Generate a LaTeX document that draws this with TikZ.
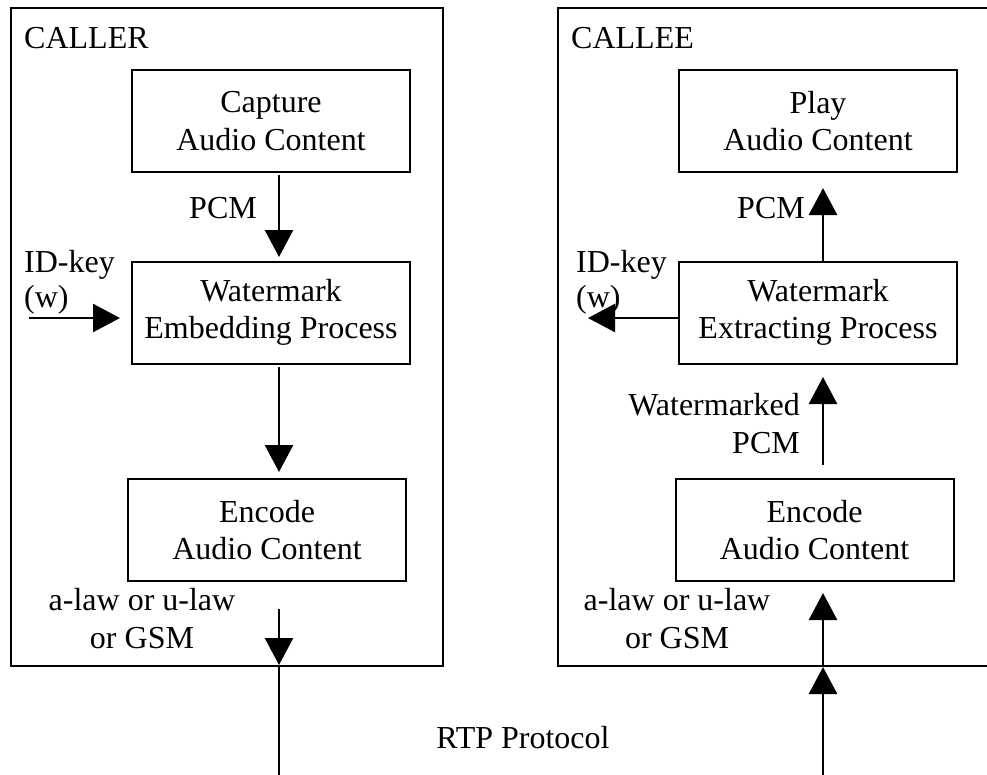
\documentclass[tikz,border=0pt]{standalone}
\usepackage{fontspec}
\setmainfont{Liberation Serif}
\usetikzlibrary{arrows.meta}
\begin{document}
\begin{tikzpicture}[x=1pt,y=-1pt,
  every node/.style={font=\fontsize{32}{37.5}\selectfont, inner sep=0pt},
  frame/.style={draw, line width=2pt},
  block/.style={draw, line width=2pt, align=center, minimum width=278pt, minimum height=102pt},
  flow/.style={line width=2.6pt, -{Triangle[length=27pt,width=28pt]}},
  wire/.style={line width=1.2pt},
  lbl/.style={anchor=base west},
  lblr/.style={anchor=base east}]
\clip (0,0) rectangle (987,774);
\fill[white] (0,0) rectangle (987,774);

% sender and receiver frames
\draw[frame] (11,8) rectangle (443,666);
\draw[frame] (558,8) rectangle (1000,666);
\node[lbl] (caller) at (24,48) {CALLER};
\node[lbl] (callee) at (571,48) {CALLEE};

% caller chain
\node[block] (cap) at (271,121) {Capture\\Audio Content};
\node[block] (emb) at (271,312.5) {Watermark\\Embedding Process};
\node[block] (encl) at (267,530) {Encode\\Audio Content};

% callee chain
\node[block] (play) at (818,121) {Play\\Audio Content};
\node[block] (ext) at (818,312.5) {Watermark\\Extracting Process};
\node[block] (encr) at (814.5,530) {Encode\\Audio Content};

% caller connectors
\coordinate (c1) at (279,175);
\coordinate (c2) at (279,257);
\draw[flow] (c1) -- (c2);
\coordinate (k1) at (29,318);
\coordinate (k2) at (120,318);
\draw[flow] (k1) -- (k2);
\coordinate (c3) at (279,367);
\coordinate (c4) at (279,472);
\draw[flow] (c3) -- (c4);
\coordinate (c5) at (279,609);
\coordinate (c6) at (279,665);
\coordinate (c7) at (279,780);
\draw[flow] (c5) -- (c6);
\draw[wire] (c6) -- (c7);

% callee connectors
\coordinate (r1) at (823,262);
\coordinate (r2) at (823,188);
\draw[flow] (r1) -- (r2);
\coordinate (k3) at (679,318);
\coordinate (k4) at (588,318);
\draw[flow] (k3) -- (k4);
\coordinate (r3) at (823,465);
\coordinate (r4) at (823,377);
\draw[flow] (r3) -- (r4);
\coordinate (r5) at (823,666);
\coordinate (r6) at (823,593);
\draw[flow] (r5) -- (r6);
\coordinate (r7) at (823,780);
\coordinate (r8) at (823,667);
\draw[flow] (r7) -- (r8);

% labels (the base of a two-line label is its last line)
\node[lblr] (pcml) at (257,218) {PCM};
\node[lbl] (keyl) at (24,272) {ID-key};
\node[lbl] (wl) at (24,307) {(w)};
\node[align=center, anchor=base] (lawl) at (142,648) {a-law or u-law\\or GSM};

\node[lblr] (pcmr) at (805,218) {PCM};
\node[lbl] (keyr) at (576,272) {ID-key};
\node[lbl] (wr) at (576,307) {(w)};
\node[lblr] (wm) at (800,415) {Watermarked};
\node[lblr] (wmp) at (800,453) {PCM};
\node[align=center, anchor=base] (lawr) at (677,648) {a-law or u-law\\or GSM};

\node[anchor=base] (rtp) at (523,748) {RTP Protocol};
\end{tikzpicture}
\end{document}
